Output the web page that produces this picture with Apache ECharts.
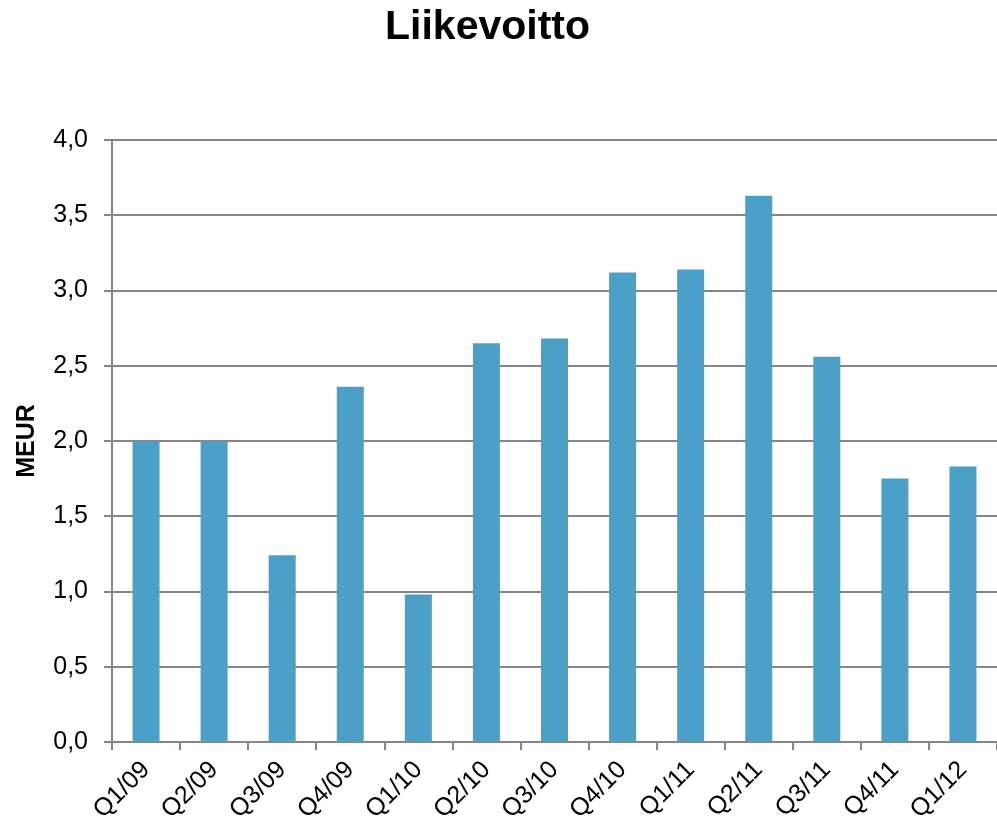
<!DOCTYPE html>
<html>
<head>
<meta charset="utf-8">
<script src="https://cdn.jsdelivr.net/npm/echarts@6/dist/echarts.min.js"></script>
<style>
html, body { margin: 0; padding: 0; background: #fff; }
#chart { width: 997px; height: 825px; }
</style>
</head>
<body>
<div id="chart"></div>
<script>
var quarters = ['Q1/09', 'Q2/09', 'Q3/09', 'Q4/09', 'Q1/10', 'Q2/10', 'Q3/10',
                'Q4/10', 'Q1/11', 'Q2/11', 'Q3/11', 'Q4/11', 'Q1/12'];
var profit = [2.0, 2.0, 1.24, 2.36, 0.98, 2.65, 2.68, 3.12, 3.14, 3.63, 2.56, 1.75, 1.83];

var chart = echarts.init(document.getElementById('chart'));
chart.setOption({
    animation: false,
    textStyle: { fontFamily: 'Liberation Sans, Arial, sans-serif' },
    title: {
        text: 'Liikevoitto',
        left: 380,
        top: 2,
        textStyle: { fontSize: 41, fontWeight: 'bold', color: '#000' }
    },
    grid: { left: 112, right: -3, top: 140, bottom: 83 },
    xAxis: {
        type: 'category',
        data: quarters,
        axisLine: { lineStyle: { color: '#868686', width: 2 } },
        axisTick: { show: true, length: 8, lineStyle: { color: '#868686', width: 2 } },
        axisLabel: { rotate: 45, fontSize: 25, color: '#000', margin: 24 }
    },
    yAxis: {
        type: 'value',
        min: 0,
        max: 4,
        interval: 0.5,
        name: 'MEUR',
        nameLocation: 'middle',
        nameGap: 72,
        nameTextStyle: { fontSize: 25, fontWeight: 'bold', color: '#000' },
        axisLine: { show: true, lineStyle: { color: '#868686', width: 2 } },
        axisTick: { show: true, length: 8, lineStyle: { color: '#868686', width: 2 } },
        axisLabel: {
            fontSize: 25, color: '#000', margin: 24,
            formatter: function (v) { return v.toFixed(1).replace('.', ','); }
        },
        splitLine: { lineStyle: { color: '#868686', width: 2 } }
    },
    series: [
        {
            type: 'bar',
            data: profit,
            barWidth: 27,
            itemStyle: { color: '#4BA0C7' }
        }
    ]
});
</script>
</body>
</html>
